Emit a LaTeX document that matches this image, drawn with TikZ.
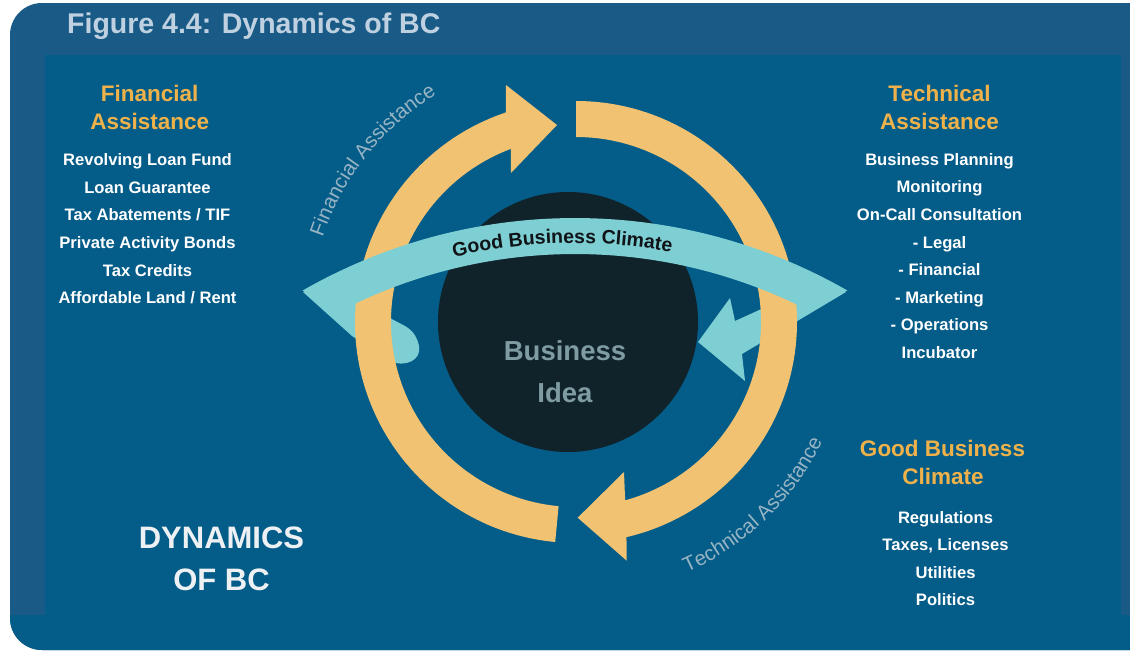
\documentclass[tikz,border=0pt]{standalone}
\usepackage{fontspec}
\setmainfont{Liberation Sans}
\usetikzlibrary{calc,decorations.text}
\definecolor{frameblue}{HTML}{195B86}
\definecolor{panelblue}{HTML}{045C88}
\definecolor{ringorange}{HTML}{F1C272}
\definecolor{bandteal}{HTML}{7ECFD3}
\definecolor{core}{HTML}{10232A}
\definecolor{headorange}{HTML}{EFB24A}
\definecolor{titlegrey}{HTML}{BFD1E1}
\definecolor{arcgrey}{HTML}{97B4C4}
\definecolor{ideagrey}{HTML}{7F9CA3}
\definecolor{bigwhite}{HTML}{EEF1F4}
\definecolor{bandtext}{HTML}{101418}
\begin{document}
\begin{tikzpicture}[x=1pt,y=-1pt,
  heading/.style={font=\fontsize{22.5}{27}\selectfont\bfseries, text=headorange, anchor=base, inner sep=0pt},
  item/.style={font=\fontsize{16.6}{20}\selectfont\bfseries, text=white, anchor=base, inner sep=0pt},
  big/.style={font=\fontsize{31}{36}\selectfont\bfseries, text=bigwhite, anchor=base, inner sep=0pt},
  idea/.style={font=\fontsize{27.5}{32}\selectfont\bfseries, text=ideagrey, anchor=base, inner sep=0pt},
  arctext/.style={decorate, decoration={text along path, text align=center, text={|\fontsize{20.5}{20.5}\selectfont\color{arcgrey}|#1}}},
]
\useasboundingbox (0,0) rectangle (1130,653);
% frame
\begin{scope}
\clip[rounded corners=32pt] (10,3) rectangle (1170,650);
\fill[frameblue] (0,0) rectangle (1130,653);
\fill[panelblue] (45,55) rectangle (1121,615);
\fill[panelblue] (0,615) rectangle (1130,653);
\end{scope}
\node[anchor=base west, font=\fontsize{28.5}{30}\selectfont\bfseries, text=titlegrey, inner sep=0pt] (title) at (67,33) {Figure 4.4: Dynamics of BC};

% core circle
\coordinate (C) at (576,322);
\coordinate (B) at (575,766);
\fill[core] (568,322) circle[radius=130];

% teal stubs beneath the ring
\fill[bandteal] (303,292) -- (352,336) -- (390,361) .. controls (405,368) and (422,360) .. (419,346)
  .. controls (417,336) and (412,330) .. (405,326) -- (388,317) -- (350,300) -- cycle;
\fill[bandteal] (846,292) -- (742,354) -- (745,381) -- (698,342) -- (730,298) -- (735,321) -- (790,296) -- (830,288) -- cycle;

% orange cycle arrows
\fill[ringorange] ($(C)+(95.4:221)$) arc[start angle=95.4, end angle=251.5, radius=221]
  -- (506,85) -- (557,125) -- (511,173) -- ($(C)+(249.4:185)$)
  arc[start angle=249.4, end angle=95.4, radius=185] -- cycle;
\fill[ringorange] ($(C)+(270:221)$) arc[start angle=270, end angle=436.8, radius=221]
  -- (626.7,560.7) -- (577.7,517.7) -- (624,472) -- ($(C)+(434.6:185)$)
  arc[start angle=434.6, end angle=270, radius=185] -- cycle;

% teal band
\fill[bandteal] ($(B)+(240.2:548)$) arc[start angle=240.2, end angle=299.8, radius=548]
  -- ($(B)+(297.5:512)$) arc[start angle=297.5, end angle=241.5, radius=512] -- cycle;
\path[decorate, decoration={text along path, text align=center, text={|\fontsize{19.5}{19.5}\selectfont\bfseries\color{bandtext}|Good Business Climate}}]
  ($(B)+(248.6:523)$) arc[start angle=248.6, end angle=288.6, radius=523];

% curved labels
\path[arctext={Financial Assistance}] ($(C)+(180.5:267)$) arc[start angle=180.5, end angle=256.5, radius=267];
\path[arctext={Technical Assistance}] ($(C)+(84:274)$) arc[start angle=84, end angle=8, radius=274];

% center text
\node[idea] (idea1) at (565,360.5) {Business};
\node[idea] (idea2) at (565,402) {Idea};

% left column
\node[heading] (fah1) at (149.7,101.5) {Financial};
\node[heading] (fah2) at (149.7,129.5) {Assistance};
\foreach \t [count=\i] in {Revolving Loan Fund, Loan Guarantee, Tax Abatements / TIF, Private Activity Bonds, Tax Credits, Affordable Land / Rent}
  \node[item] (fa\i) at (147.5, {165.7+27.6*(\i-1)}) {\t};

% right column
\node[heading] (tah1) at (939.5,101.5) {Technical};
\node[heading] (tah2) at (939.5,129.5) {Assistance};
\foreach \t [count=\i] in {Business Planning, Monitoring, On-Call Consultation, - Legal, - Financial, - Marketing, - Operations, Incubator}
  \node[item] (ta\i) at (939.5, {165.2+27.6*(\i-1)}) {\t};

\node[heading] (gbh1) at (942.5,456) {Good Business};
\node[heading] (gbh2) at (943,484) {Climate};
\foreach \t [count=\i] in {Regulations, {Taxes, Licenses}, Utilities, Politics}
  \node[item] (gb\i) at (945.5, {523.2+27.5*(\i-1)}) {\t};

% big label
\node[big] (dyn1) at (221.5,548) {DYNAMICS};
\node[big] (dyn2) at (221.5,590) {OF BC};
\end{tikzpicture}
\end{document}
